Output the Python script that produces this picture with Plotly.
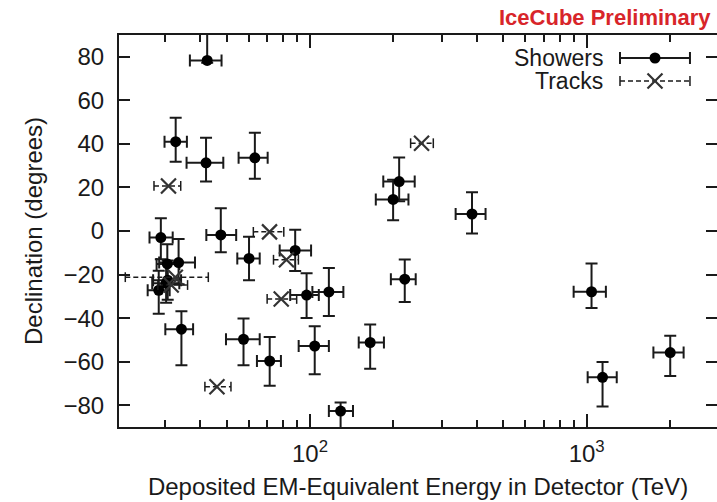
import plotly.graph_objects as go

# ---------------- data ----------------
# Showers: deposited energy (TeV), +/- energy error, declination (deg), +/- dec error
shower_energy = [47.6, 117, 165, 28.4, 34.3, 63.2, 97.2, 88.4, 104, 1041, 57.5, 30.6, 199.7, 71.5,
                 1141, 30.2, 220, 30.5, 33.5, 210, 60.2, 32.7, 129, 42.5, 385, 42.1, 2004, 28.9]
shower_e_plus = [6.5, 15, 20, 2.7, 3.5, 7.1, 10.4, 12.5, 13, 132, 8.3, 3.6, 27.2, 7.0,
                 143, 3.5, 21, 3.2, 4.9, 29, 5.6, 3.2, 14, 5.4, 46, 6.5, 236, 3.0]
shower_e_minus = [5.4, 15, 15, 2.5, 4.3, 8.0, 12.4, 10.7, 13, 144, 7.8, 3.5, 26.8, 7.2,
                  133, 3.3, 24, 2.6, 5.0, 26, 5.6, 2.9, 12, 5.7, 49, 6.3, 262, 2.6]
shower_dec = [-1.8, -28.0, -51.2, -27.2, -45.1, 33.6, -29.4, -8.9, -52.8, -27.9, -49.7, -22.6, 14.5, -59.7,
              -67.2, -24.0, -22.1, -15.1, -14.5, 22.7, -12.6, 41.0, -82.7, 78.3, 7.8, 31.3, -55.8, -3.0]
shower_dec_plus = [12.2, 11, 8.3, 9, 8.3, 11.5, 10, 9.5, 9.1, 13, 9.5, 9, 9, 11,
                   7, 9, 9, 9, 10.8, 11, 10, 11, 4, 15, 10, 11.5, 7.7, 8.8]
shower_dec_minus = [8, 11, 12, 10.8, 16.6, 9.6, 10.5, 9.5, 13, 7.4, 12, 9, 9.6, 11.4,
                    13.4, 9, 10.5, 10, 10, 9, 10, 9.2, 8, 1, 8.9, 8.6, 10.8, 10]

# Tracks
track_energy = [78.7, 71.4, 32.6, 253, 31.5, 82.2, 46.1, 30.8]
track_e_plus = [10.8, 9.0, 10.3, 26, 4.6, 8.6, 5.7, 3.3]
track_e_minus = [8.7, 9.0, 11.1, 22, 3.3, 8.4, 4.4, 3.5]
track_dec = [-31.2, -0.4, -21.2, 40.3, -24.8, -13.2, -71.5, 20.7]

y_tick_values = [-80, -60, -40, -20, 0, 20, 40, 60, 80]
x_major_ticks = [100, 1000]
x_major_labels = ["10<sup>2</sup>", "10<sup>3</sup>"]
x_minor_ticks = [20, 30, 40, 50, 60, 70, 80, 90, 200, 300, 400, 500, 600, 700, 800, 900, 2000]

legend_labels = ["Showers", "Tracks"]

# ---------------- styling ----------------
FONT = "Liberation Sans, Arial, Helvetica, sans-serif"
INK = "#1a1a1a"
W, H = 717, 502
L, R, T, B = 119, 0, 35, 75
X_RANGE = [1.3097, 3.4709]
Y_RANGE = [-90, 90]

fig = go.Figure()

# shower points with error bars
fig.add_trace(go.Scatter(
    x=shower_energy, y=shower_dec, mode="markers",
    marker=dict(symbol="circle", size=11, color="black"),
    error_x=dict(type="data", symmetric=False, array=shower_e_plus, arrayminus=shower_e_minus,
                 color=INK, thickness=2, width=6),
    error_y=dict(type="data", symmetric=False, array=shower_dec_plus, arrayminus=shower_dec_minus,
                 color=INK, thickness=2, width=6),
    showlegend=False, cliponaxis=True))

# track dashed horizontal error bars
tx, ty, cx, cy = [], [], [], []
for e, ep, em, d in zip(track_energy, track_e_plus, track_e_minus, track_dec):
    tx += [e - em, e + ep, None]
    ty += [d, d, None]
    cx += [e - em, e + ep]
    cy += [d, d]
fig.add_trace(go.Scatter(x=tx, y=ty, mode="lines",
                         line=dict(color=INK, width=1.5, dash="5px,3px"),
                         showlegend=False, hoverinfo="skip"))
fig.add_trace(go.Scatter(x=cx, y=cy, mode="markers",
                         marker=dict(symbol="line-ns", size=7, line=dict(color=INK, width=1.5)),
                         showlegend=False, hoverinfo="skip"))
fig.add_trace(go.Scatter(x=track_energy, y=track_dec, mode="markers",
                         marker=dict(symbol="x-thin", size=15, line=dict(color="#333333", width=2.2)),
                         showlegend=False))

# empty trace to carry the right-hand tick axis
fig.add_trace(go.Scatter(x=[None], y=[None], yaxis="y2", showlegend=False, hoverinfo="skip"))

# ---------------- custom legend (symbol to the right of the text) ----------------
LEG_X0, LEG_X1 = 0.8378, 0.9548
LEG_XC = (LEG_X0 + LEG_X1) / 2
LEG_Y = [0.9413, 0.8827]
LEG_TEXT_X = 0.8127
half = (LEG_X1 - LEG_X0) / 2
fig.add_trace(go.Scatter(
    x=[LEG_XC], y=[LEG_Y[0]], xaxis="x2", yaxis="y3", mode="markers",
    marker=dict(symbol="circle", size=11, color="black"),
    error_x=dict(type="constant", value=half, color=INK, thickness=2, width=6),
    showlegend=False, hoverinfo="skip"))
fig.add_trace(go.Scatter(
    x=[LEG_X0, LEG_X1], y=[LEG_Y[1], LEG_Y[1]], xaxis="x2", yaxis="y3", mode="lines+markers",
    line=dict(color=INK, width=1.5, dash="5px,3px"),
    marker=dict(symbol="line-ns", size=7, line=dict(color=INK, width=1.5)),
    showlegend=False, hoverinfo="skip"))
fig.add_trace(go.Scatter(
    x=[LEG_XC], y=[LEG_Y[1]], xaxis="x2", yaxis="y3", mode="markers",
    marker=dict(symbol="x-thin", size=15, line=dict(color="#333333", width=2.2)),
    showlegend=False, hoverinfo="skip"))

annotations = []
for lab, yy in zip(legend_labels, LEG_Y):
    annotations.append(dict(text=lab, xref="paper", yref="paper", x=LEG_TEXT_X, y=yy,
                            xanchor="right", yanchor="middle", showarrow=False,
                            font=dict(family=FONT, size=23, color=INK)))
annotations.append(dict(text="<b>IceCube Preliminary</b>", xref="paper", yref="paper",
                        x=0.9933, y=1.0434, xanchor="right", yanchor="middle", showarrow=False,
                        font=dict(family=FONT, size=22, color="#d8252a")))

axis_common = dict(showgrid=False, zeroline=False)
fig.update_layout(
    width=W, height=H,
    margin=dict(l=L, r=R, t=T, b=B, autoexpand=False),
    paper_bgcolor="white", plot_bgcolor="white",
    font=dict(family=FONT, size=24, color=INK),
    xaxis=dict(type="log", range=X_RANGE, tickmode="array", tickvals=x_major_ticks,
               ticktext=x_major_labels, ticks="inside", ticklen=13, tickwidth=2, tickcolor=INK,
               showline=True, linewidth=2, linecolor=INK, mirror="ticks",
               minor=dict(tickmode="array", tickvals=x_minor_ticks, ticks="inside", ticklen=7,
                          tickwidth=2, tickcolor=INK, showgrid=False),
               tickfont=dict(size=24), ticklabelstandoff=4,
               title=dict(text="Deposited EM-Equivalent Energy in Detector (TeV)",
                          font=dict(size=24), standoff=12),
               automargin=False, **axis_common),
    yaxis=dict(range=Y_RANGE, tickmode="array", tickvals=y_tick_values, ticks="inside",
               ticklen=11, tickwidth=2, tickcolor=INK, showline=True, linewidth=2, linecolor=INK,
               mirror=False, tickfont=dict(size=24), ticklabelstandoff=8,
               title=dict(text="Declination (degrees)", font=dict(size=24), standoff=14),
               automargin=False, **axis_common),
    yaxis2=dict(overlaying="y", side="right", range=Y_RANGE, tickmode="array",
                tickvals=y_tick_values, ticks="inside", ticklen=11, tickwidth=2, tickcolor=INK,
                showline=False, showticklabels=False, automargin=False, **axis_common),
    xaxis2=dict(overlaying="x", range=[0, 1], visible=False, anchor="y3"),
    yaxis3=dict(overlaying="y", range=[0, 1], visible=False, anchor="x2"),
    annotations=annotations,
)

fig.write_html("out.html", config={"displayModeBar": False},
               post_script="document.body.style.margin='0px';document.body.style.overflow='hidden';")
